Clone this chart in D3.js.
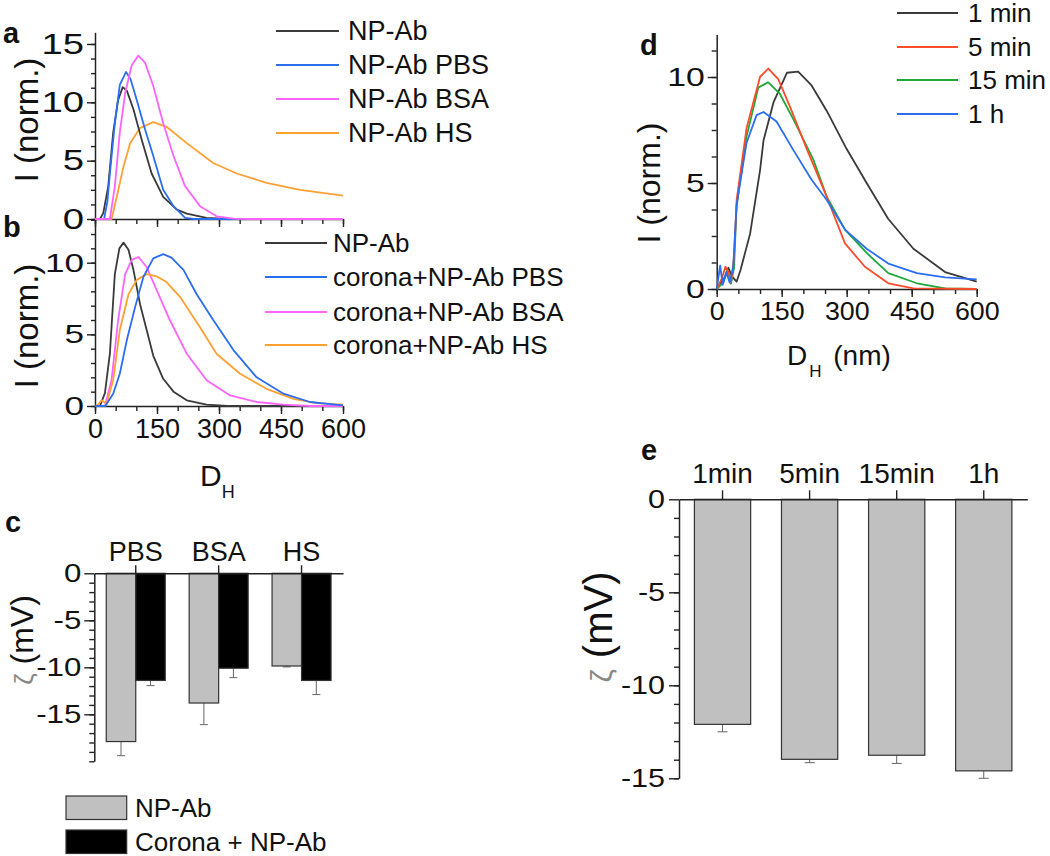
<!DOCTYPE html>
<html><head><meta charset="utf-8">
<script src="https://cdn.jsdelivr.net/npm/d3@7"></script>
<style>
body{margin:0;background:#fff}
svg text{font-family:"Liberation Sans",Arial,Helvetica,sans-serif;fill:#111}
</style>
</head><body>
<svg id="fig" width="1050" height="856"></svg>
<script>
// ---------- DATA ----------
// panel a : DLS distributions  [D_H (nm), I (norm.)]
const aNames = ["NP-Ab","NP-Ab PBS","NP-Ab BSA","NP-Ab HS"];
const aNPAb = [[0,0],[12,0],[20,0.5],[32,2.8],[44,7.4],[56,10.2],[67,11.3],[77,11.0],[93,9.4],[113,6.8],[137,3.9],[165,1.9],[198,0.8],[222,0.46],[270,0.1],[320,0],[600,0]];
const aPBS  = [[0,0],[22,0],[30,1.5],[36,3.9],[48,8.2],[60,11.5],[75,12.6],[86,12.0],[101,10.2],[121,7.7],[141,5.4],[165,2.5],[190,1.1],[218,0.1],[240,0],[600,0]];
const aBSA  = [[0,0],[36,0],[48,2.8],[60,7.4],[73,10.8],[89,13.2],[105,14.0],[121,13.4],[141,11.4],[165,8.2],[190,5.4],[218,2.8],[254,1.1],[294,0.23],[335,0.03],[380,0],[600,0]];
const aHS   = [[0,0],[40,0],[52,1.8],[69,4.5],[85,6.5],[109,7.8],[141,8.3],[173,7.9],[222,6.5],[286,4.8],[343,3.9],[415,3.1],[496,2.5],[600,2.0]];
// panel b
const bNames = ["NP-Ab","corona+NP-Ab PBS","corona+NP-Ab BSA","corona+NP-Ab HS"];
const bNPAb = [[0,0],[12,0],[24,0.9],[36,3.65],[48,9.2],[59,11.0],[69,11.4],[81,10.9],[93,9.5],[109,7.1],[125,5.3],[141,3.5],[165,1.9],[190,1.0],[222,0.4],[270,0.1],[320,0],[600,0]];
const bPBS  = [[0,0],[25,0],[44,0.86],[60,2.25],[77,4.6],[97,6.9],[117,9.0],[141,10.3],[165,10.6],[185,10.35],[214,9.5],[246,7.8],[286,6.0],[335,3.9],[391,2.0],[456,0.86],[520,0.28],[600,0.05]];
const bBSA  = [[0,0],[24,0],[40,1.8],[56,6.0],[73,9.2],[89,10.2],[105,10.4],[125,9.7],[149,8.1],[181,6.0],[222,3.65],[270,1.8],[327,0.74],[391,0.28],[456,0.1],[520,0],[600,0]];
const bHS   = [[0,0],[8,0.1],[16,0.4],[28,0.16],[44,1.8],[60,5.3],[81,7.8],[101,8.8],[125,9.2],[149,9.05],[173,8.65],[206,7.6],[254,5.5],[294,3.65],[351,2.25],[415,1.2],[480,0.5],[536,0.2],[600,0.1]];
// panel c : zeta potential (mV)
const cCats = ["PBS","BSA","HS"];
const cSeries = ["NP-Ab","Corona + NP-Ab"];
const cNPAb = [-17.9,-13.8,-9.86];
const cNPAbErr = [1.5,2.3,0.1];
const cCorona = [-11.4,-10.1,-11.4];
const cCoronaErr = [0.55,1.0,1.5];
// panel d : time series
const dNames = ["1 min","5 min","15 min","1 h"];
const d1min  = [[0,0],[10,0.3],[20,0.6],[27,1.0],[35,0.6],[46,0.35],[55,0.9],[77,2.6],[100,5.6],[108,7.0],[131,8.8],[162,10.2],[188,10.25],[219,9.6],[254,8.4],[300,6.6],[346,5.0],[396,3.3],[454,1.9],[527,0.8],[600,0.35]];
const d5min  = [[0,0],[12,0.5],[20,1.05],[27,0.8],[33,0.3],[40,1.5],[46,4.2],[69,7.6],[100,10.0],[119,10.4],[142,9.9],[169,8.6],[208,6.6],[254,4.35],[296,2.15],[342,1.05],[396,0.27],[454,0.03],[600,0]];
const d15min = [[0,0],[15,0.3],[25,0.9],[33,0.25],[40,1.0],[46,3.9],[69,7.2],[96,9.5],[119,9.75],[146,9.2],[177,8.0],[223,6.1],[254,4.35],[296,2.8],[346,1.7],[396,0.75],[462,0.27],[527,0.03],[600,0]];
const d1h    = [[0,0],[8,1.1],[14,0.2],[22,0.8],[30,0.3],[38,1.0],[46,4.0],[69,6.9],[92,8.2],[108,8.35],[138,7.9],[177,6.55],[219,5.15],[254,4.2],[296,2.8],[346,1.9],[396,1.2],[462,0.75],[527,0.55],[600,0.45]];
// panel e
const eCats = ["1min","5min","15min","1h"];
const eVals = [-12.1,-13.98,-13.76,-14.6];
const eErr  = [0.4,0.18,0.44,0.4];
// ticks
const xMajor = [0,150,300,450,600];
const xMinor = d3.range(0,601,50);

// ---------- DRAWING ----------
const svg = d3.select("#fig");
const AX = "#222";
const colBlack="#3a3a3a", colBlue="#2b6ef0", colMag="#ff63ff", colOr="#ffa033", colRed="#ff4b2b", colGreen="#1fa83a";

function styleAxis(g){
  g.selectAll("path.domain").attr("stroke",AX).attr("stroke-width",1.5);
  g.selectAll(".tick line").attr("stroke",AX).attr("stroke-width",1.4);
}
function yAxis(scale, x, majors, minors, majLen, minLen, fs, sx, gap){
  const gm = svg.append("g").attr("transform",`translate(${x},0)`)
    .call(d3.axisLeft(scale).tickValues(minors).tickSize(minLen).tickFormat(""));
  gm.select("path.domain").remove(); styleAxis(gm);
  const g = svg.append("g").attr("transform",`translate(${x},0)`)
    .call(d3.axisLeft(scale).tickValues(majors).tickSize(majLen).tickSizeOuter(0).tickFormat(d=>String(d)));
  styleAxis(g);
  g.selectAll("text").attr("font-size",fs).attr("fill","#111")
    .attr("transform",`scale(${sx},1)`).attr("x",-(majLen+gap)/sx)
    .style("font-family",'"Liberation Sans",Arial,sans-serif');
  return g;
}
function xAxisBottom(scale, y, majors, minors, majLen, minLen, labels, fs, sx, pad){
  const gm = svg.append("g").attr("transform",`translate(0,${y})`)
    .call(d3.axisBottom(scale).tickValues(minors).tickSize(minLen).tickFormat(""));
  gm.select("path.domain").remove(); styleAxis(gm);
  const g = svg.append("g").attr("transform",`translate(0,${y})`)
    .call(d3.axisBottom(scale).tickValues(majors).tickSize(majLen).tickSizeOuter(0)
      .tickFormat(labels? (d=>String(d)) : ""));
  styleAxis(g);
  g.selectAll("text").attr("font-size",fs).attr("fill","#111")
    .attr("transform",`scale(${sx},1)`).attr("y",majLen+pad).attr("dy","0.71em")
    .style("font-family",'"Liberation Sans",Arial,sans-serif');
  return g;
}
function label(x,y,s,fs,opts={}){
  const t = svg.append("text").attr("font-size",fs)
    .attr("transform",`translate(${x},${y})`+(opts.rot?` rotate(${opts.rot})`:"")+(opts.sx?` scale(${opts.sx},1)`:""))
    .attr("text-anchor",opts.anchor||"start").text(s);
  if(opts.bold) t.attr("font-weight","bold");
  return t;
}
function lines(x,y,series,colors){
  const ln = d3.line().x(d=>x(d[0])).y(d=>y(d[1]));
  series.forEach((s,i)=>{
    svg.append("path").attr("d",ln(s)).attr("fill","none").attr("stroke",colors[i])
      .attr("stroke-width",1.8).attr("stroke-linejoin","round");
  });
}
function legend(x0,x1,tx,ys,names,colors,fs){
  names.forEach((n,i)=>{
    svg.append("line").attr("x1",x0).attr("x2",x1).attr("y1",ys[i]).attr("y2",ys[i])
      .attr("stroke",colors[i]).attr("stroke-width",1.8);
    svg.append("text").attr("x",tx).attr("y",ys[i]).attr("dy","0.35em").attr("font-size",fs).text(n);
  });
}

// ----- panel a -----
const xa = d3.scaleLinear().domain([0,600]).range([95,343]);
const ya = d3.scaleLinear().domain([0,16]).range([219,32.3]);
yAxis(ya,95,[0,5,10,15],d3.range(0,16,1.25),8,4,29,1.32,3);
xAxisBottom(xa,219,xMajor,xMinor,8,5,false,26,1,4);
lines(xa,ya,[aHS,aNPAb,aPBS,aBSA],[colOr,colBlack,colBlue,colMag]);
legend(276,339,348,[31,65,99,133],aNames,[colBlack,colBlue,colMag,colOr],27);
label(3,43,"a",29,{bold:true});
label(38,120,"I (norm.)",33,{rot:-90,anchor:"middle"});

// ----- panel b -----
const yb = d3.scaleLinear().domain([0,13]).range([406,219.7]);
yAxis(yb,95,[0,5,10],d3.range(0,13.1,1),8,4,26,1.35,3);
xAxisBottom(xa,406,xMajor,xMinor,8,5,true,27,1,5);
lines(xa,yb,[bNPAb,bBSA,bHS,bPBS],[colBlack,colMag,colOr,colBlue]);
legend(265,327,333,[243,277,312,345],bNames,[colBlack,colBlue,colMag,colOr],26);
label(3,237,"b",29,{bold:true});
label(38,326,"I (norm.)",33,{rot:-90,anchor:"middle"});
{
  const t = svg.append("text").attr("x",200).attr("y",486).attr("font-size",30);
  t.append("tspan").text("D");
  t.append("tspan").attr("dy",12).attr("font-size",18).text("H");
}

// ----- panel c -----
const xc = d3.scaleBand().domain(cCats).range([94.3,343]).padding(0);
const yc = d3.scaleLinear().domain([-20,0]).range([761.3,573.3]);
const cBW = 29.5;
const xc1 = d3.scaleBand().domain(cSeries).range([xc.bandwidth()/2-cBW, xc.bandwidth()/2+cBW]);
const cData = [cNPAb,cCorona], cErr=[cNPAbErr,cCoronaErr], cFill=["#c0c0c0","#000"];
cSeries.forEach((s,si)=>{
  cCats.forEach((c,ci)=>{
    const v = cData[si][ci], e = cErr[si][ci];
    const x = xc(c)+xc1(s), w = xc1.bandwidth(), cx = x+w/2;
    svg.append("line").attr("x1",cx).attr("x2",cx).attr("y1",yc(v)).attr("y2",yc(v-e)).attr("stroke","#666").attr("stroke-width",1);
    svg.append("line").attr("x1",cx-4).attr("x2",cx+4).attr("y1",yc(v-e)).attr("y2",yc(v-e)).attr("stroke","#666").attr("stroke-width",1);
    svg.append("rect").attr("x",x).attr("y",yc(0)).attr("width",w).attr("height",yc(v)-yc(0))
      .attr("fill",cFill[si]).attr("stroke","#333").attr("stroke-width",1.2);
  });
});
yAxis(yc,94.3,[0,-5,-10,-15],d3.range(-20,0,1),10,5,25,1.25,3);
{
  const g = svg.append("g").attr("transform",`translate(0,${yc(0)})`)
    .call(d3.axisTop(xc).tickSize(8).tickSizeOuter(0).tickPadding(4));
  styleAxis(g);
  g.selectAll("text").attr("font-size",27).attr("fill","#111").style("font-family",'"Liberation Sans",Arial,sans-serif');
}
label(5,532,"c",29,{bold:true});
{
  const t = svg.append("text").attr("transform","translate(33,640) rotate(-90)").attr("text-anchor","middle").attr("font-size",32);
  t.append("tspan").attr("fill","#888").attr("font-size",26).text("ζ");
  t.append("tspan").text(" (mV)");
}
cSeries.forEach((s,i)=>{
  const yy = [796,830][i];
  svg.append("rect").attr("x",66).attr("y",yy).attr("width",60.7).attr("height",23.5)
    .attr("fill",cFill[i]).attr("stroke","#333").attr("stroke-width",1.2);
  svg.append("text").attr("x",135).attr("y",yy+11.7).attr("dy","0.36em").attr("font-size",26).text(s);
});

// ----- panel d -----
const xd = d3.scaleLinear().domain([0,600]).range([716.7,976.7]);
const yd = d3.scaleLinear().domain([0,12]).range([289,34.6]);
yAxis(yd,716.7,[0,5,10],d3.range(0,12.1,1.25),9,5,25,1.35,3);
xAxisBottom(xd,289,xMajor,xMinor,8,5,true,25.5,1.05,5);
lines(xd,yd,[d1min,d15min,d5min,d1h],[colBlack,colGreen,colRed,colBlue]);
legend(897,958,968,[13,47,80,114],dNames,[colBlack,colRed,colGreen,colBlue],26);
label(640,55,"d",29,{bold:true});
label(660,183,"I (norm.)",32,{rot:-90,anchor:"middle"});
{
  const t = svg.append("text").attr("x",787).attr("y",365).attr("font-size",28);
  t.append("tspan").text("D");
  t.append("tspan").attr("dy",12).attr("dx",2).attr("font-size",17).text("H");
  t.append("tspan").attr("dy",-12).attr("dx",4).text(" (nm)");
}

// ----- panel e -----
const xe = d3.scaleBand().domain(eCats).range([679,1027.3]).paddingInner(0.354).paddingOuter(0.177);
const ye = d3.scaleLinear().domain([-15,0]).range([778.3,499.3]);
eCats.forEach((c,i)=>{
  const x = xe(c), w = xe.bandwidth(), cx = x+w/2, v=eVals[i], e=eErr[i];
  svg.append("line").attr("x1",cx).attr("x2",cx).attr("y1",ye(v)).attr("y2",ye(v-e)).attr("stroke","#666").attr("stroke-width",1);
  svg.append("line").attr("x1",cx-5).attr("x2",cx+5).attr("y1",ye(v-e)).attr("y2",ye(v-e)).attr("stroke","#666").attr("stroke-width",1);
  svg.append("rect").attr("x",x).attr("y",ye(0)).attr("width",w).attr("height",ye(v)-ye(0))
    .attr("fill","#c0c0c0").attr("stroke","#333").attr("stroke-width",1.2);
});
yAxis(ye,679,[0,-5,-10,-15],d3.range(-15,0,1),10,5,25,1.22,4);
{
  const g = svg.append("g").attr("transform",`translate(0,${ye(0)})`)
    .call(d3.axisTop(xe).tickSize(9).tickSizeOuter(0).tickPadding(7));
  styleAxis(g);
  g.selectAll("text").attr("font-size",28).attr("fill","#111").style("font-family",'"Liberation Sans",Arial,sans-serif');
}
label(641,460,"e",29,{bold:true});
{
  const t = svg.append("text").attr("transform","translate(612,627) rotate(-90)").attr("text-anchor","middle").attr("font-size",40);
  t.append("tspan").attr("fill","#888").attr("font-size",30).text("ζ");
  t.append("tspan").text(" (mV)");
}
</script>
</body></html>
